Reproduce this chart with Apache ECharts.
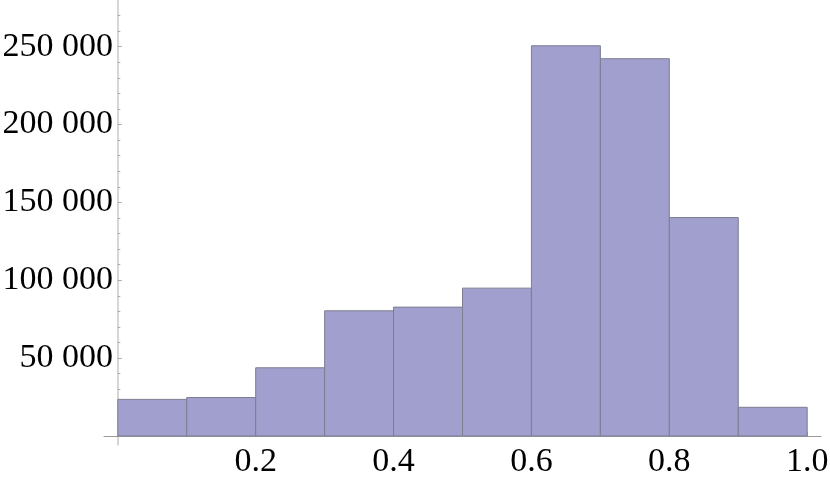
<!DOCTYPE html>
<html>
<head>
<meta charset="utf-8">
<script src="https://cdn.jsdelivr.net/npm/echarts@6/dist/echarts.min.js"></script>
<style>
  html, body { margin: 0; padding: 0; background: #fff; }
  #chart { width: 830px; height: 480px; }
</style>
</head>
<body>
<div id="chart"></div>
<script>
// histogram bins (left edge, right edge) and counts
const binStarts = [0.0, 0.1, 0.2, 0.3, 0.4, 0.5, 0.6, 0.7, 0.8, 0.9];
const binEnds = [0.1, 0.2, 0.3, 0.4, 0.5, 0.6, 0.7, 0.8, 0.9, 1.0];
const counts = [23500, 24700, 43800, 80400, 82750, 94950, 250600, 242300, 140300, 18400];

// tick labels and tick positions
const xLabels = [0.2, 0.4, 0.6, 0.8, 1.0];
const xMinorTicks = [0.05, 0.1, 0.15, 0.25, 0.3, 0.35, 0.45, 0.5, 0.55, 0.65, 0.7, 0.75, 0.85, 0.9, 0.95];
const yLabels = [50000, 100000, 150000, 200000, 250000];
const yMinorTicks = [10000, 20000, 30000, 40000, 60000, 70000, 80000, 90000, 110000, 120000, 130000, 140000,
  160000, 170000, 180000, 190000, 210000, 220000, 230000, 240000, 260000, 270000];

const font = '"Liberation Serif", "DejaVu Serif", serif';
const axisGray = '#aaaaaa';

const histData = binStarts.map((s, i) => [s, binEnds[i], counts[i]]);

let chart = echarts.init(document.getElementById('chart'));

const xRange = { min: -0.02, max: 1.02 };
const yRange = { min: -5800, max: 280000 };

chart.setOption({
  animation: false,
  grid: { left: 104, right: 9, top: 0, bottom: 35, containLabel: false, outerBoundsMode: 'none' },
  xAxis: [
    {
      type: 'value',
      min: xRange.min, max: xRange.max,
      splitLine: { show: false },
      axisLine: { onZero: true, lineStyle: { color: '#999999', width: 1 } },
      axisTick: { customValues: xLabels, inside: true, length: 4, lineStyle: { color: axisGray } },
      axisLabel: {
        customValues: xLabels,
        formatter: v => v.toFixed(1),
        color: '#000', fontFamily: font, fontSize: 34, margin: 0
      }
    },
    {
      type: 'value',
      min: xRange.min, max: xRange.max,
      position: 'bottom',
      splitLine: { show: false },
      axisLine: { show: false, onZero: true },
      axisTick: { customValues: xMinorTicks, inside: true, length: 2.5, lineStyle: { color: axisGray } },
      axisLabel: { show: false }
    }
  ],
  yAxis: [
    {
      type: 'value',
      min: yRange.min, max: yRange.max,
      splitLine: { show: false },
      axisLine: { onZero: true, lineStyle: { color: '#c8c8c8', width: 1.5 } },
      axisTick: { customValues: yLabels, inside: true, length: 4, lineStyle: { color: axisGray } },
      axisLabel: {
        customValues: yLabels,
        formatter: v => String(v).replace(/(\d)(?=(\d{3})+$)/g, '$1 '),
        color: '#000', fontFamily: font, fontSize: 34, margin: -9
      }
    },
    {
      type: 'value',
      min: yRange.min, max: yRange.max,
      position: 'left',
      splitLine: { show: false },
      axisLine: { show: false, onZero: true },
      axisTick: { customValues: yMinorTicks, inside: true, length: 2.5, lineStyle: { color: axisGray } },
      axisLabel: { show: false }
    }
  ],
  series: [
    {
      type: 'custom',
      xAxisIndex: 0,
      yAxisIndex: 0,
      data: histData,
      encode: { x: [0, 1], y: 2 },
      renderItem: function (params, api) {
        const p0 = api.coord([api.value(0), 0]);
        const p1 = api.coord([api.value(1), api.value(2)]);
        return {
          type: 'rect',
          shape: { x: p0[0], y: p1[1], width: p1[0] - p0[0], height: p0[1] - p1[1] },
          style: { fill: '#a09fcd', stroke: '#7e7e92', lineWidth: 1 }
        };
      }
    }
  ]
});
</script>
</body>
</html>
